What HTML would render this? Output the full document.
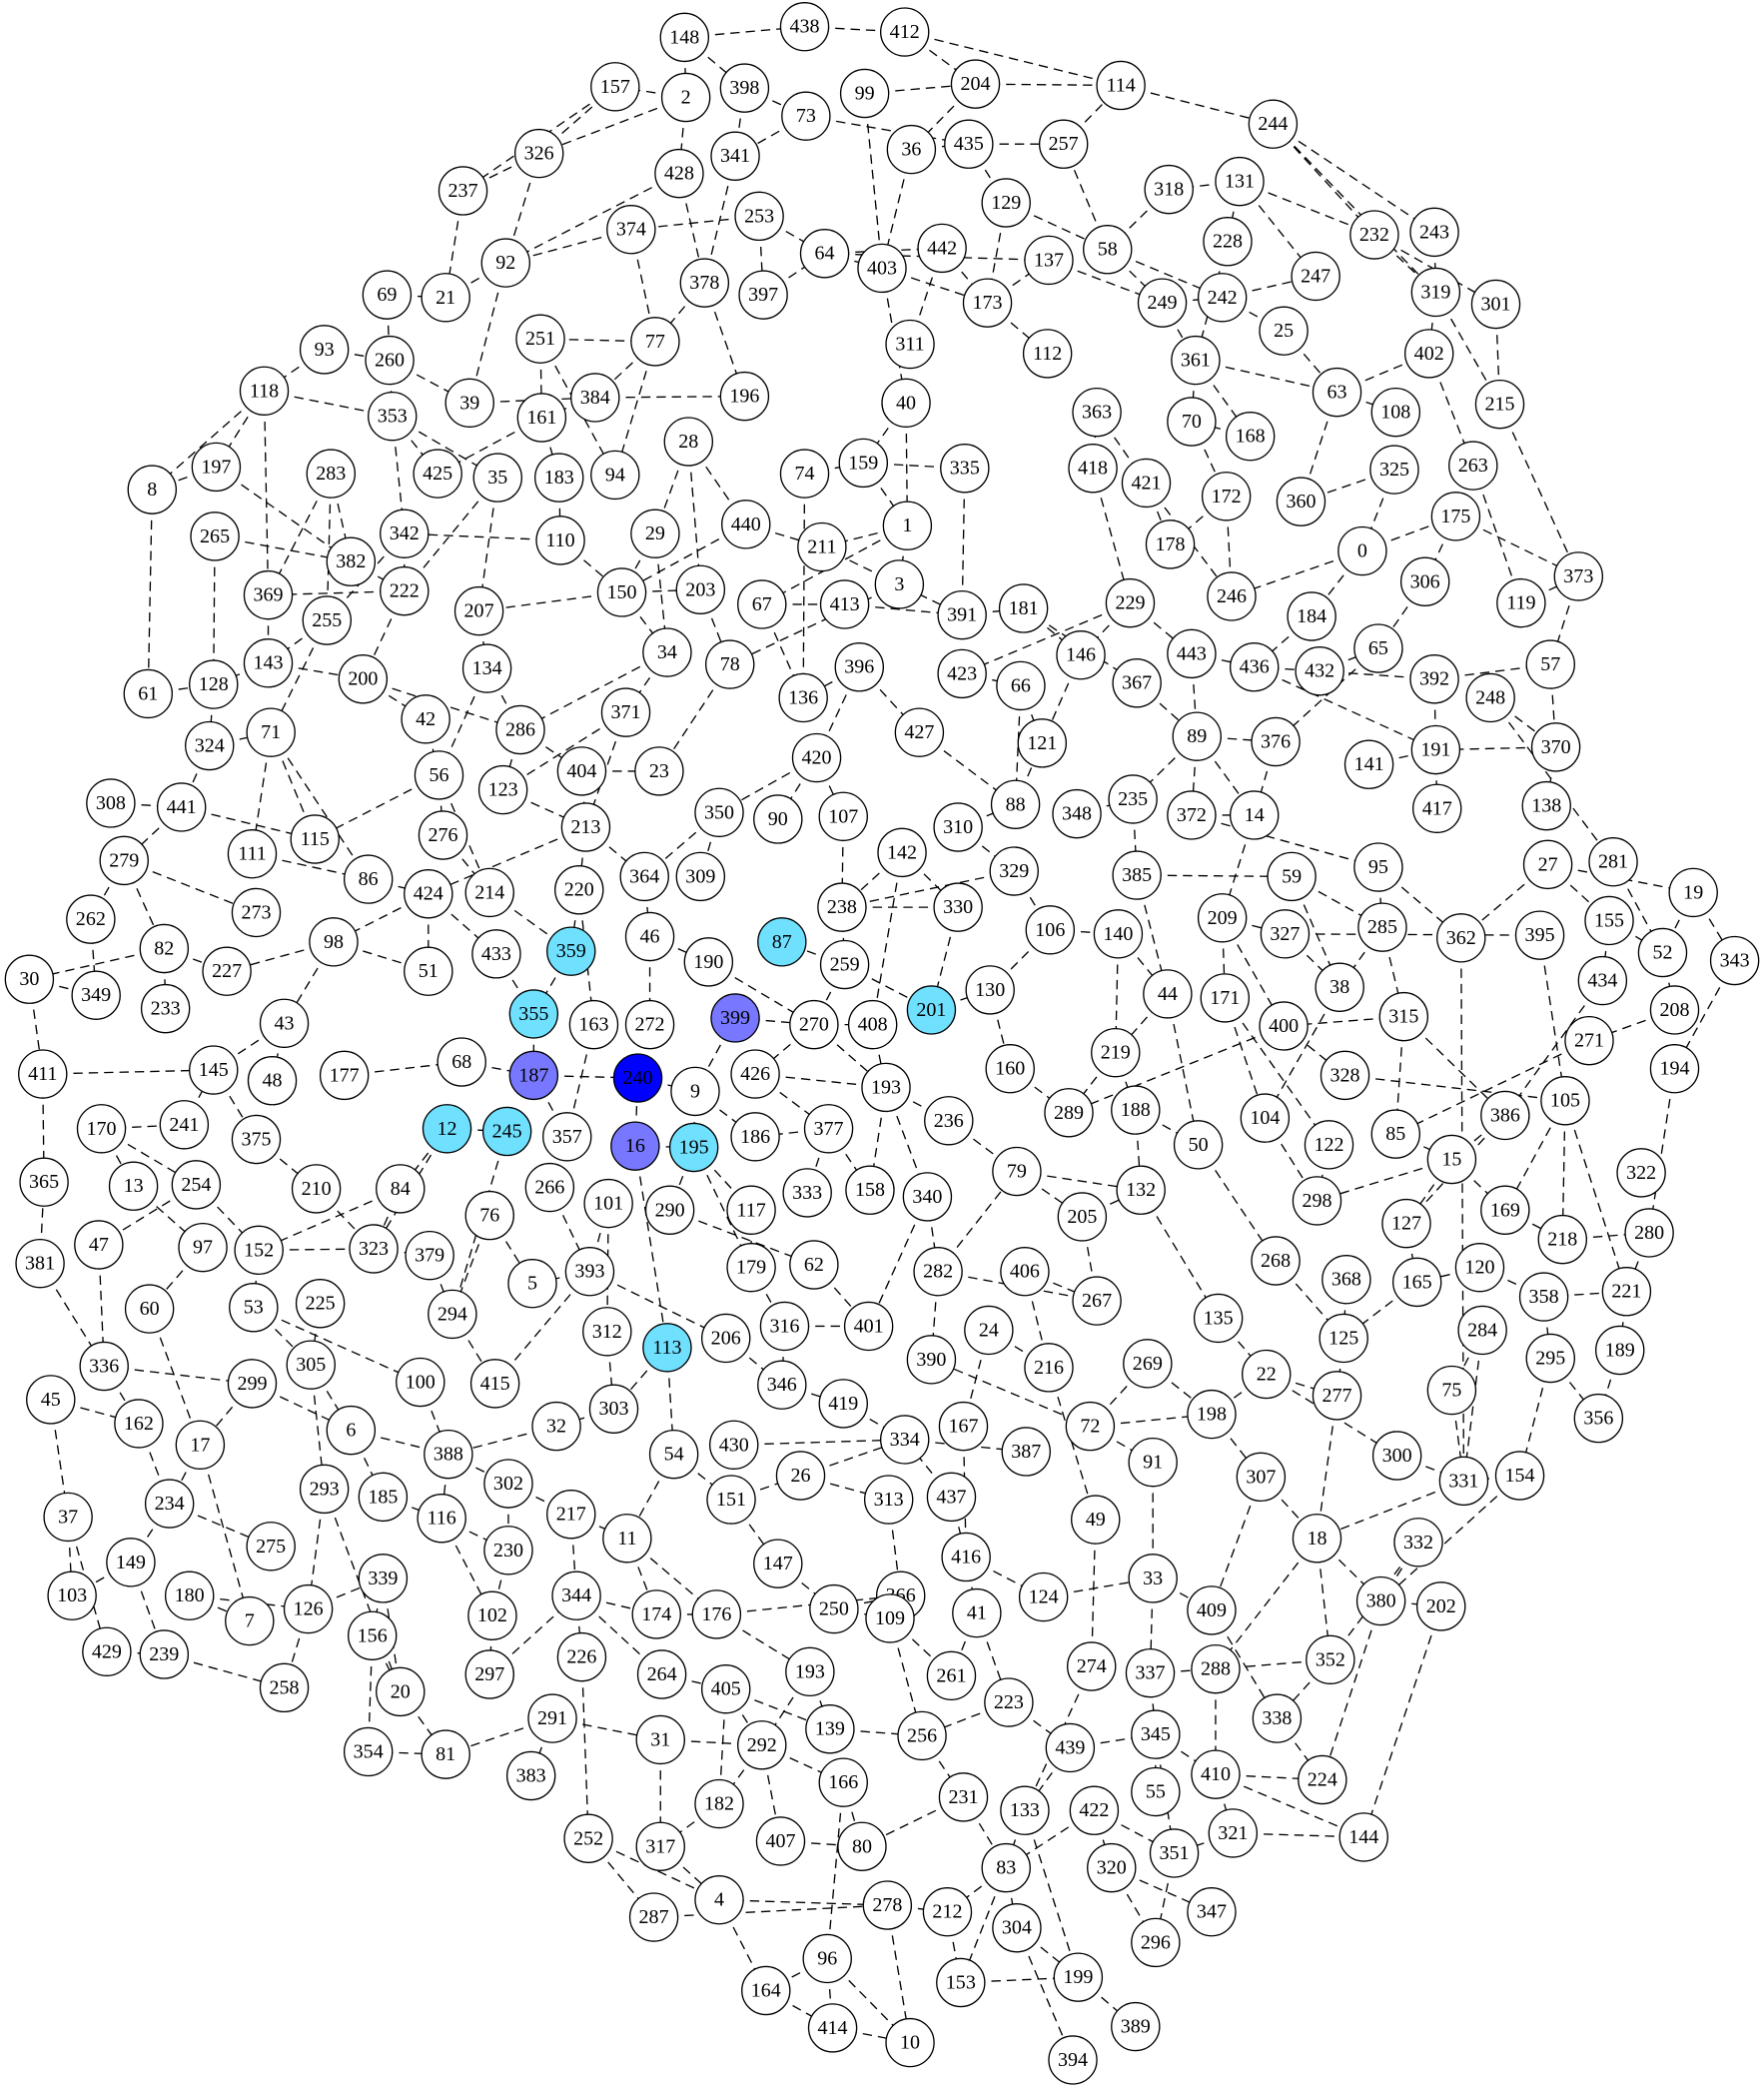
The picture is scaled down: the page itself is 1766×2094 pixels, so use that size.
<!DOCTYPE html>
<html><head><meta charset="utf-8"><style>
html,body{margin:0;padding:0;background:#fff}
svg{display:block}
text{font-family:"Liberation Serif",serif;font-size:15px;text-anchor:middle;dominant-baseline:central}
</style></head><body>
<svg id="g" width="1766" height="2094" viewBox="0 0 1322 1568" preserveAspectRatio="none" xmlns="http://www.w3.org/2000/svg">
<g id="edges"></g>
<g id="nodes"></g>
</svg>
<script>
const nodeIds=["148","438","412","2","398","157","204","114","99","73","36","435","257","244","326","428","341","237","131","318","129","232","243","374","92","253","64","442","137","58","228","247","403","378","397","173","249","242","319","301","69","21","251","77","25","311","112","361","63","402","260","93","118","39","384","196","161","353","40","363","70","108","168","215","8","197","283","425","35","183","94","28","74","159","335","418","421","172","325","360","263","265","342","110","382","29","440","1","211","175","178","3","0","369","222","150","203","373","306","119","246","255","207","67","413","391","181","229","184","143","34","78","146","443","436","432","65","61","128","200","134","396","423","367","66","392","57","248","371","42","286","136","427","121","89","376","141","191","370","324","71","56","23","404","123","420","348","235","372","14","417","138","308","441","115","276","213","350","90","107","88","310","281","279","111","86","424","214","220","364","309","142","329","385","59","95","27","19","262","273","238","330","106","140","209","327","285","362","395","155","52","343","82","30","349","227","98","433","359","46","190","87","259","233","51","163","272","355","399","270","408","201","130","44","171","38","315","434","208","43","400","271","411","145","48","177","68","187","240","9","426","193","160","219","289","328","105","194","386","104","188","122","85","12","245","357","170","241","375","236","186","377","16","195","50","15","13","254","210","84","266","333","158","340","79","132","298","322","365","101","290","117","76","205","127","169","218","280","47","97","152","323","379","381","179","62","5","393","406","267","282","120","165","368","358","221","60","53","225","294","135","268","316","206","401","24","125","284","189","336","312","113","390","216","269","22","295","305","100","415","45","162","299","346","277","75","419","6","303","32","198","356","17","388","54","430","334","167","72","387","91","300","331","154","302","185","293","37","234","26","151","307","116","217","313","437","49","275","11","230","416","18","332","149","147","339","33","124","380","103","180","7","126","344","174","176","250","366","41","409","202","102","156","109","429","239","226","264","193b","261","274","337","288","352","297","20","405","258","223","338","291","31","292","139","256","439","345","410","224","354","81","55","383","166","231","133","422","182","252","317","407","80","321","144","351","83","320","287","4","278","212","347","304","296","96","153","199","164","389","414","10","394"];
const nodeX=[513,603,678,514,558,461,731,840,648,604,683,726,797,954,404,509,551,347,929,876,754,1030,1075,473,379,569,618,706,786,830,920,986,661,528,572,740,871,916,1076,1121,290,334,405,491,962,682,785,896,1002,1071,292,243,198,352,446,558,406,294,679,822,893,1046,937,1124,114,162,248,328,373,419,461,516,603,647,723,819,859,919,1045,975,1104,161,303,420,263,491,559,680,616,1091,877,674,1021,201,303,466,525,1183,1068,1140,923,245,359,571,633,721,767,847,983,201,500,547,810,893,940,989,1033,111,160,272,365,644,721,852,765,1075,1162,1117,469,319,390,602,689,781,897,956,1026,1076,1166,157,203,329,494,436,377,612,807,849,893,940,1077,1159,83,136,236,332,439,539,583,632,761,718,1209,93,189,276,321,367,434,483,525,676,760,852,968,1033,1160,1269,68,192,631,718,787,838,916,963,1036,1095,1154,1206,1246,1300,123,22,72,170,250,372,428,487,531,586,633,124,321,445,487,400,551,610,654,698,742,875,918,1004,1052,1201,1255,213,962,1191,32,160,204,258,346,400,478,521,566,664,757,836,801,1008,1173,1255,1128,948,851,996,1046,335,380,425,76,138,192,711,566,621,476,520,898,1088,100,147,237,300,412,605,652,695,762,855,987,1230,33,456,502,563,367,811,1054,1128,1171,1236,74,152,194,280,322,30,563,610,399,442,768,822,703,1109,1062,1009,1157,1219,112,190,240,339,913,956,588,544,651,741,1007,1111,1214,78,455,500,698,786,860,949,1162,233,315,371,38,104,189,586,1002,1088,632,263,460,417,908,1198,150,336,505,550,678,722,817,769,864,1047,1097,1139,381,287,243,51,127,600,548,945,331,428,666,713,821,203,470,381,724,987,1063,98,583,287,864,782,1035,54,142,187,231,432,492,537,625,675,732,908,1080,369,279,667,80,123,436,496,607,713,818,862,911,997,367,300,544,213,756,957,414,495,571,622,691,802,866,911,991,276,334,866,398,632,722,768,820,539,441,495,585,646,924,1022,880,754,833,490,539,665,710,908,762,866,620,720,808,574,851,624,682,804];
const nodeY=[28,20,24,73,66,65,63,64,70,87,112,108,108,93,115,130,117,143,136,142,152,176,174,172,197,162,190,186,195,187,181,207,201,212,221,227,227,223,219,228,221,223,254,256,248,258,265,270,294,265,270,262,293,302,298,297,313,312,302,309,316,309,327,303,367,350,355,355,358,358,356,331,355,347,351,351,362,372,352,376,349,402,400,405,421,400,393,394,410,387,408,438,413,446,443,444,442,432,436,452,447,465,458,453,453,461,456,452,462,497,489,498,491,490,500,503,486,520,513,509,501,500,505,512,514,509,498,523,534,539,547,523,549,557,552,556,573,562,560,559,549,581,578,578,592,568,610,599,611,611,606,604,602,605,629,626,620,609,614,612,603,620,646,645,640,659,670,669,667,657,657,639,653,656,657,650,648,669,689,684,680,680,697,700,688,700,695,703,701,690,714,720,711,734,746,728,706,715,713,702,721,706,723,756,728,768,768,760,763,768,768,757,742,745,748,740,762,735,757,767,769,780,805,802,810,806,796,806,808,818,805,815,801,789,834,806,825,801,836,838,832,858,850,846,848,852,846,843,854,840,852,846,859,860,858,869,889,888,891,891,890,894,892,897,878,892,900,879,886,902,907,907,911,912,917,907,929,924,933,935,937,936,941,947,950,948,962,953,953,975,953,950,961,959,972,968,981,980,977,985,988,945,994,1003,994,997,1003,997,1012,1024,998,1010,1019,1025,1022,1030,1018,1023,1036,1037,1049,1067,1037,1038,1046,1042,1052,1072,1056,1069,1060,1063,1083,1090,1090,1083,1079,1069,1069,1088,1096,1091,1110,1106,1112,1122,1116,1137,1127,1106,1124,1107,1138,1135,1124,1122,1139,1159,1153,1162,1167,1153,1156,1171,1172,1183,1183,1197,1200,1196,1196,1215,1206,1196,1210,1210,1206,1196,1209,1207,1204,1211,1226,1213,1238,1240,1242,1255,1253,1256,1249,1254,1251,1244,1255,1268,1266,1265,1276,1288,1288,1304,1308,1296,1301,1310,1300,1330,1334,1313,1315,1343,1331,1336,1347,1357,1357,1352,1378,1384,1380,1384,1374,1377,1389,1400,1400,1437,1424,1428,1433,1433,1445,1456,1468,1486,1482,1492,1519,1520,1531,1544];
const blueNodes=["240"];
const purpleNodes=["16","187","399"];
const cyanNodes=["12","245","355","359","195","113","87","201"];
const edgeList="148-438 438-412 148-2 148-398 412-204 412-114 204-114 99-204 204-36 2-157 2-428 157-326 157-237 326-237 326-92 2-326 398-341 398-73 73-341 73-435 435-257 435-129 257-114 114-244 244-232 244-243 244-319 131-318 131-228 131-232 131-247 232-301 232-319 243-319 319-402 319-215 301-215 99-403 36-403 36-435 428-378 428-92 341-378 253-374 253-397 253-64 64-442 64-137 64-403 442-173 442-311 403-173 403-40 173-137 173-112 129-173 129-58 137-249 58-257 58-318 58-249 58-242 228-361 242-247 242-25 249-361 249-242 25-63 361-63 361-70 361-168 63-402 63-108 63-360 402-263 215-373 237-21 92-21 92-39 374-77 374-92 378-77 378-196 397-64 77-384 77-251 77-94 69-21 69-260 93-118 93-260 260-39 260-353 39-384 384-196 384-161 251-161 251-94 118-8 118-197 118-353 118-369 197-8 197-382 353-35 353-425 353-342 161-425 161-183 35-207 35-222 183-110 110-150 110-342 28-29 28-440 28-203 29-150 29-34 440-150 440-211 74-159 74-136 159-335 159-1 40-159 40-1 1-211 1-3 1-67 211-391 3-78 335-391 418-229 418-363 363-421 421-178 421-246 172-178 172-246 70-172 168-70 325-0 325-360 0-184 0-175 175-373 175-306 263-119 119-373 0-246 306-65 65-376 373-57 8-61 265-128 265-382 283-382 283-369 283-255 342-222 342-255 382-222 222-200 222-369 150-203 150-207 150-34 203-78 67-413 67-136 413-391 391-181 181-146 181-367 229-146 229-423 229-443 146-121 443-89 443-436 436-432 432-65 436-191 184-436 392-57 392-432 392-191 248-370 248-281 370-191 370-138 57-370 369-143 255-143 255-71 143-200 143-128 128-324 61-128 200-286 200-42 207-134 134-286 134-56 34-371 34-286 78-23 396-136 396-427 396-420 423-66 66-121 66-88 427-88 367-89 89-235 89-376 89-14 89-372 376-14 141-191 191-417 417-431 324-441 324-71 71-115 71-111 71-86 308-441 441-279 441-115 441-314 42-56 56-276 56-214 56-115 286-404 286-123 371-213 371-123 123-213 404-23 404-213 213-424 213-364 213-220 420-350 420-90 420-107 350-309 350-364 107-238 142-238 142-330 142-408 310-329 310-88 88-121 329-106 329-238 348-235 235-385 372-95 372-14 385-59 385-44 14-209 59-285 59-38 95-362 95-285 27-155 27-19 27-362 19-52 19-343 281-52 155-52 155-434 52-208 343-194 279-262 279-82 279-273 111-86 86-424 276-214 424-433 424-51 424-98 214-359 220-359 220-163 364-46 46-272 46-190 190-270 238-330 238-259 259-87 259-270 259-201 330-201 106-140 106-130 140-219 140-44 209-327 209-400 209-171 327-38 327-395 285-38 285-315 362-331 395-105 262-349 82-227 82-233 82-30 30-349 30-411 98-227 98-43 98-51 433-355 359-355 355-187 163-357 272-240 399-270 399-9 270-408 270-426 270-193 408-193 201-130 130-160 44-219 44-50 171-104 171-122 38-104 315-400 315-85 315-386 434-386 208-271 271-85 43-48 43-145 411-145 411-365 145-375 177-68 68-187 187-240 187-357 240-9 9-186 9-195 426-193 193-236 193-158 193-340 426-377 236-79 160-289 219-289 219-188 188-132 188-50 400-328 400-289 328-105 105-169 105-218 105-221 194-280 386-127 386-15 104-298 122-298 85-15 12-245 12-323 12-84 245-294 357-266 170-241 170-254 170-13 241-145 375-210 210-323 84-323 84-152 266-393 377-186 377-333 377-158 16-195 16-113 16-240 195-117 195-290 195-179 50-268 15-127 15-169 15-298 13-97 254-152 254-47 152-323 152-53 323-379 379-294 76-5 76-294 101-393 101-312 290-62 117-179 205-267 205-132 79-132 79-205 127-165 169-218 218-280 280-221 47-336 381-365 381-336 97-60 53-305 53-100 225-305 294-415 393-206 393-5 406-267 406-216 282-390 282-267 282-79 62-401 179-316 316-346 316-401 340-401 340-282 120-358 120-165 165-125 368-125 358-221 358-295 221-189 135-22 132-135 268-125 22-198 22-277 22-300 125-277 284-75 284-331 295-356 295-154 189-356 336-162 336-299 45-162 45-37 60-17 305-6 305-293 299-17 299-6 6-388 6-185 100-388 415-393 312-303 113-303 113-54 303-32 32-388 206-346 346-419 419-334 430-334 334-387 167-416 72-198 72-91 72-390 24-216 24-167 216-49 269-198 269-72 198-307 277-18 75-331 331-18 154-380 154-331 300-331 37-103 37-429 162-234 17-234 17-7 234-275 234-149 388-302 388-116 302-230 302-217 185-116 293-126 293-20 54-11 54-151 430-151 151-147 151-26 26-313 26-334 313-366 437-416 437-334 49-274 91-33 307-409 307-18 18-380 18-352 18-288 332-380 332-352 116-230 116-102 217-344 217-11 11-174 11-176 230-102 416-41 416-124 124-33 33-337 33-409 380-202 380-224 149-239 149-103 180-7 180-126 126-258 126-339 339-156 339-20 344-226 344-264 344-174 174-176 176-366 176-193b 147-250 250-109 250-366 41-261 41-223 409-338 202-144 102-297 156-354 156-20 109-256 109-261 429-239 239-258 226-252 264-405 193b-292 193b-139 337-345 337-288 288-410 288-352 352-338 297-344 20-81 405-292 405-139 405-182 223-439 223-256 338-224 291-383 291-31 291-81 31-292 31-317 292-182 292-407 292-166 139-256 256-231 439-345 439-133 345-410 345-351 410-224 410-321 410-144 354-81 345-55 166-80 166-96 231-83 231-80 133-83 422-83 422-320 422-351 182-317 252-287 252-4 317-4 407-80 321-144 321-351 351-296 83-212 83-304 83-153 320-347 320-296 287-278 4-278 4-164 278-212 278-10 212-153 304-199 304-394 96-164 96-414 96-10 153-199 199-389 164-414 414-10 133-199 274-133".split(" ");

const NS="http://www.w3.org/2000/svg";
const R=18;
const pos={};
nodeIds.forEach((id,i)=>{pos[id]=[nodeX[i],nodeY[i]];});
const eg=document.getElementById("edges"), ng=document.getElementById("nodes");
edgeList.forEach(e=>{
  const [a,b]=e.split("-");
  if(!pos[a]||!pos[b])return;
  const l=document.createElementNS(NS,"line");
  l.setAttribute("x1",pos[a][0]);l.setAttribute("y1",pos[a][1]);
  l.setAttribute("x2",pos[b][0]);l.setAttribute("y2",pos[b][1]);
  l.setAttribute("stroke","#000");l.setAttribute("stroke-width","1");
  l.setAttribute("stroke-dasharray","7,4.5");
  
  
  eg.appendChild(l);
});
nodeIds.forEach(id=>{
  const [x,y]=pos[id];
  const g=document.createElementNS(NS,"g");
  
  
  const c=document.createElementNS(NS,"circle");
  c.setAttribute("cx",x);c.setAttribute("cy",y);c.setAttribute("r",R);
  let fill="#fff";
  if(blueNodes.includes(id))fill="#0000ff";
  else if(purpleNodes.includes(id))fill="#7777ff";
  else if(cyanNodes.includes(id))fill="#70e0ff";
  c.setAttribute("fill",fill);c.setAttribute("stroke","#000");c.setAttribute("stroke-width","1");
  
  
  const t=document.createElementNS(NS,"text");
  t.setAttribute("x",x);t.setAttribute("y",y);
  t.textContent=id.replace("b","");
  
  
  g.appendChild(c);g.appendChild(t);ng.appendChild(g);
});
</script>
</body></html>
